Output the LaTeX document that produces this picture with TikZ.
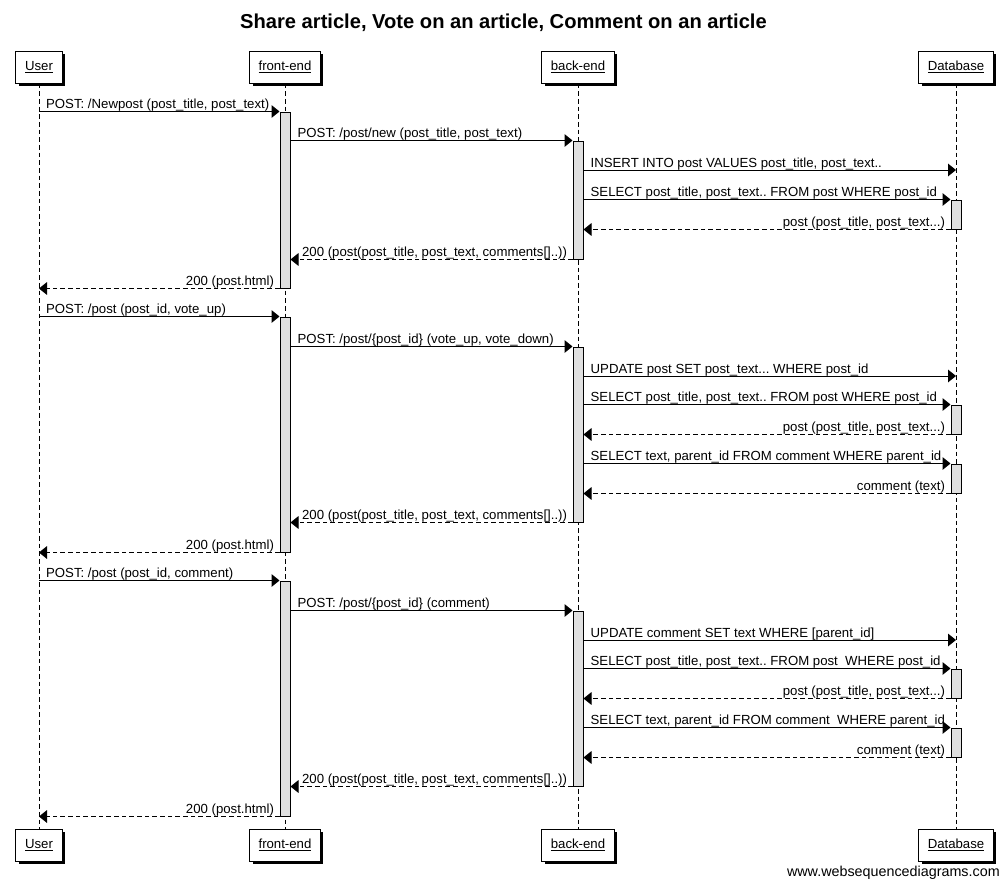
\documentclass[tikz,border=0pt]{standalone}
\usepackage{fontspec}
\setmainfont{Liberation Sans}
\usetikzlibrary{arrows.meta,shadows,fit}
\frenchspacing
\begin{document}
\begin{tikzpicture}[x=0.75pt,y=-0.75pt,
  font=\fontsize{9.9pt}{12pt}\selectfont\frenchspacing,
  actor/.style={draw, line width=0.75pt, fill=white, minimum height=24pt, inner xsep=6.8pt,
    drop shadow={shadow xshift=2.25pt, shadow yshift=-2.25pt, fill=black, opacity=1}},
  life/.style={line width=0.75pt, dash pattern=on 3.5pt off 2.25pt},
  act/.style={draw, line width=0.75pt, fill=black!12, inner sep=0pt, minimum width=7.5pt},
  msg/.style={line width=0.75pt, -{Triangle[length=6pt,width=9.5pt]}},
  ret/.style={msg, dash pattern=on 3.5pt off 2.25pt},
  lblr/.style={anchor=base west, xshift=5pt, yshift=1.9pt, inner sep=0pt},
  lbll/.style={anchor=base east, xshift=-3.75pt, yshift=1.9pt, inner sep=0pt},
]
\useasboundingbox (0,0) rectangle (1008,885);

% title
\node[anchor=base, font=\bfseries\fontsize{15.1pt}{18pt}\selectfont] (title) at (503.5,28)
  {Share article, Vote on an article, Comment on an article};

% participants
\node[actor] (uh) at (39,67) {\underline{User}};
\node[actor] (fh) at (285,67) {\underline{front-end}};
\node[actor] (bh) at (578,67) {\underline{back-end}};
\node[actor] (dh) at (956,67) {\underline{Database}};
\node[actor] (uf) at (39,845) {\underline{User}};
\node[actor] (ff) at (285,845) {\underline{front-end}};
\node[actor] (bf) at (578,845) {\underline{back-end}};
\node[actor] (df) at (956,845) {\underline{Database}};

% lifelines
\draw[life] (uh.south) -- (uf.north);
\draw[life] (fh.south) -- (ff.north);
\draw[life] (bh.south) -- (bf.north);
\draw[life] (dh.south) -- (df.north);

% activation bars
\node[act, fit={(285,112) (285,288)}] (fa1) {};
\node[act, fit={(285,317) (285,552)}] (fa2) {};
\node[act, fit={(285,581) (285,816)}] (fa3) {};
\node[act, fit={(578,141) (578,259)}] (ba1) {};
\node[act, fit={(578,347) (578,522)}] (ba2) {};
\node[act, fit={(578,611) (578,786)}] (ba3) {};
\node[act, fit={(956,200) (956,229)}] (da1) {};
\node[act, fit={(956,405) (956,434)}] (da2) {};
\node[act, fit={(956,464) (956,493)}] (da3) {};
\node[act, fit={(956,669) (956,698)}] (da4) {};
\node[act, fit={(956,728) (956,757)}] (da5) {};

\coordinate (q1) at (578,170);
\coordinate (q2) at (578,376);
\coordinate (q3) at (578,640);

% --- Share article
\draw[msg] (uh.center |- fa1.north) -- (fa1.north west) node[pos=0,lblr] {POST: /Newpost (post\_title, post\_text)};
\draw[msg] (fa1.east |- ba1.north) -- (ba1.north west) node[pos=0,lblr] {POST: /post/new (post\_title, post\_text)};
\draw[msg] (ba1.east |- q1) -- (dh.center |- q1) node[pos=0,lblr] {INSERT INTO post VALUES post\_title, post\_text..};
\draw[msg] (ba1.east |- da1.north) -- (da1.north west) node[pos=0,lblr] {SELECT post\_title, post\_text.. FROM post WHERE post\_id};
\draw[ret] (da1.south west) -- (ba1.east |- da1.south) node[pos=0,lbll] {post (post\_title, post\_text...)};
\draw[ret] (ba1.south west) -- (fa1.east |- ba1.south) node[pos=0,lbll] {200 (post(post\_title, post\_text, comments[]..))};
\draw[ret] (fa1.south west) -- (uh.center |- fa1.south) node[pos=0,lbll] {200 (post.html)};

% --- Vote on an article
\draw[msg] (uh.center |- fa2.north) -- (fa2.north west) node[pos=0,lblr] {POST: /post (post\_id, vote\_up)};
\draw[msg] (fa2.east |- ba2.north) -- (ba2.north west) node[pos=0,lblr] {POST: /post/\{post\_id\} (vote\_up, vote\_down)};
\draw[msg] (ba2.east |- q2) -- (dh.center |- q2) node[pos=0,lblr] {UPDATE post SET post\_text... WHERE post\_id};
\draw[msg] (ba2.east |- da2.north) -- (da2.north west) node[pos=0,lblr] {SELECT post\_title, post\_text.. FROM post WHERE post\_id};
\draw[ret] (da2.south west) -- (ba2.east |- da2.south) node[pos=0,lbll] {post (post\_title, post\_text...)};
\draw[msg] (ba2.east |- da3.north) -- (da3.north west) node[pos=0,lblr] {SELECT text, parent\_id FROM comment WHERE parent\_id};
\draw[ret] (da3.south west) -- (ba2.east |- da3.south) node[pos=0,lbll] {comment (text)};
\draw[ret] (ba2.south west) -- (fa2.east |- ba2.south) node[pos=0,lbll] {200 (post(post\_title, post\_text, comments[]..))};
\draw[ret] (fa2.south west) -- (uh.center |- fa2.south) node[pos=0,lbll] {200 (post.html)};

% --- Comment on an article
\draw[msg] (uh.center |- fa3.north) -- (fa3.north west) node[pos=0,lblr] {POST: /post (post\_id, comment)};
\draw[msg] (fa3.east |- ba3.north) -- (ba3.north west) node[pos=0,lblr] {POST: /post/\{post\_id\} (comment)};
\draw[msg] (ba3.east |- q3) -- (dh.center |- q3) node[pos=0,lblr] {UPDATE comment SET text WHERE [parent\_id]};
\draw[msg] (ba3.east |- da4.north) -- (da4.north west) node[pos=0,lblr] {SELECT post\_title, post\_text.. FROM post\ \ WHERE post\_id};
\draw[ret] (da4.south west) -- (ba3.east |- da4.south) node[pos=0,lbll] {post (post\_title, post\_text...)};
\draw[msg] (ba3.east |- da5.north) -- (da5.north west) node[pos=0,lblr] {SELECT text, parent\_id FROM comment\ \ WHERE parent\_id};
\draw[ret] (da5.south west) -- (ba3.east |- da5.south) node[pos=0,lbll] {comment (text)};
\draw[ret] (ba3.south west) -- (fa3.east |- ba3.south) node[pos=0,lbll] {200 (post(post\_title, post\_text, comments[]..))};
\draw[ret] (fa3.south west) -- (uh.center |- fa3.south) node[pos=0,lbll] {200 (post.html)};

% footer
\node[anchor=base east, inner sep=0pt, font=\fontsize{10.75pt}{12pt}\selectfont] (wsd) at (1000,876) {www.websequencediagrams.com};
\end{tikzpicture}
\end{document}
